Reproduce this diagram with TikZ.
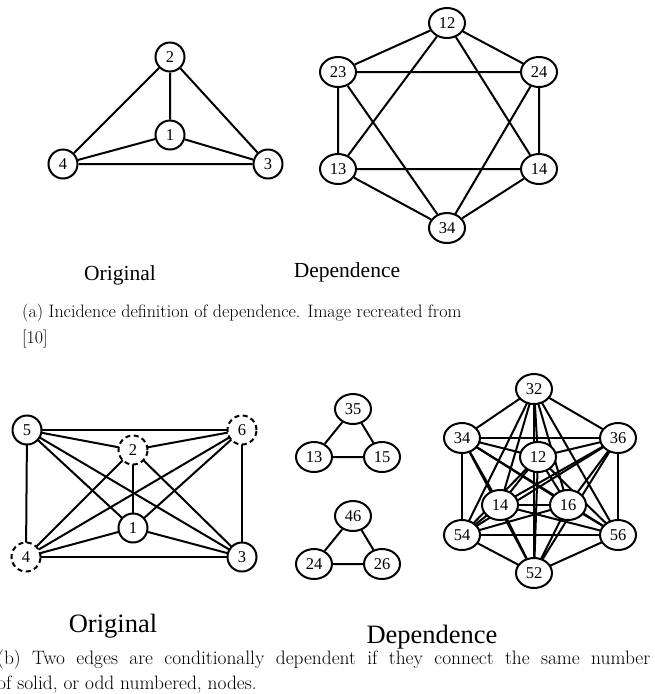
\documentclass[tikz,border=0pt]{standalone}
\usepackage{fontspec}
\newfontfamily\lab{Liberation Serif}
\usetikzlibrary{shapes.geometric}
\tikzset{
  edge/.style={line width=2pt},
  cnode/.style={circle,draw,line width=2pt,fill=white,minimum size=29pt,inner sep=0pt,font=\lab\fontsize{16.5}{16.5}\selectfont},
  dnode/.style={cnode,dash pattern=on 5pt off 3.5pt},
  enode/.style={ellipse,draw,line width=2pt,fill=white,minimum width=36pt,minimum height=30pt,inner sep=0pt,font=\lab\fontsize{16.5}{16.5}\selectfont},
  biglab/.style={inner sep=0pt,font=\lab\fontsize{21.5}{21.5}\selectfont},
  hugelab/.style={inner sep=0pt,font=\lab\fontsize{26.5}{26.5}\selectfont},
  capt/.style={inner sep=0pt,anchor=base west,font=\fontsize{18}{21}\selectfont},
  captb/.style={capt,font=\fontsize{19.4}{23}\selectfont}
}
\begin{document}
\begin{tikzpicture}[x=1pt,y=-1pt]
\useasboundingbox (0,0) rectangle (655,694);
% (a) original
\coordinate (pa2) at (170,57);
\coordinate (pa1) at (170,135);
\coordinate (pa4) at (63,164);
\coordinate (pa3) at (268,164);
\node[cnode] (a2) at (pa2) {2};
\node[cnode] (a1) at (pa1) {1};
\node[cnode] (a4) at (pa4) {4};
\node[cnode] (a3) at (pa3) {3};
\draw[edge] (a2)--(a1) (a2)--(a4) (a2)--(a3) (a1)--(a4) (a1)--(a3) (a4)--(a3);
% (a) dependence
\node[enode] (e12) at (447,23) {12};
\node[enode] (e23) at (338,72) {23};
\node[enode] (e24) at (539,72) {24};
\node[enode] (e13) at (338,169) {13};
\node[enode] (e14) at (539,169) {14};
\node[enode] (e34) at (447,228) {34};
\draw[edge] (e12)--(e23) (e12)--(e24) (e23)--(e24) (e23)--(e13) (e24)--(e14) (e13)--(e14)
  (e13)--(e34) (e14)--(e34) (e12)--(e13) (e12)--(e14) (e23)--(e34) (e24)--(e34);
\node[biglab] (la1) at (120,275) {Original};
\node[biglab] (la2) at (347,272) {Dependence};
\node[capt] (ca1) at (22,317) {(a) Incidence definition of dependence. Image recreated from};
\node[capt] (ca2) at (22,343) {[10]};
% (b) original
\coordinate (p5) at (27,430);
\coordinate (p6) at (242,430);
\coordinate (p2) at (133,450);
\coordinate (p1) at (133,528);
\coordinate (p4) at (26,557);
\coordinate (p3) at (242,557);
\foreach \u/\v in {5/6,5/2,5/1,5/3,5/4,6/2,6/1,6/4,6/3,2/1,2/4,2/3,1/4,1/3,4/3}
  \draw[edge] (p\u)--(p\v);
\node[cnode] (b5) at (p5) {5};
\node[dnode] (b6) at (p6) {6};
\node[dnode] (b2) at (p2) {2};
\node[cnode] (b1) at (p1) {1};
\node[dnode] (b4) at (p4) {4};
\node[cnode] (b3) at (p3) {3};
% (b) triangles
\node[enode] (t35) at (353,409) {35};
\node[enode] (t13) at (314,457) {13};
\node[enode] (t15) at (382,457) {15};
\draw[edge] (t35)--(t13) (t35)--(t15) (t13)--(t15);
\node[enode] (t46) at (353,516) {46};
\node[enode] (t24) at (314,564) {24};
\node[enode] (t26) at (382,564) {26};
\draw[edge] (t46)--(t24) (t46)--(t26) (t24)--(t26);
% (b) dense
\foreach \n/\x/\y in {32/534/389,34/462/438,36/618/438,12/538/457,14/500/505,16/568/505,54/462/535,56/618/535,52/534/573}
  \coordinate (q\n) at (\x,\y);
\foreach \u/\v in {32/34,32/36,32/12,32/14,32/16,32/54,32/56,32/52,
  34/36,34/12,34/14,34/16,34/54,34/56,34/52,
  36/12,36/14,36/16,36/54,36/56,36/52,
  12/14,12/16,12/54,12/56,12/52,
  14/16,14/54,14/56,14/52,
  16/54,16/56,16/52,
  54/56,54/52,56/52}
  \draw[edge] (q\u)--(q\v);
\foreach \n in {32,34,36,12,14,16,54,56,52}
  \node[enode] (k\n) at (q\n) {\n};
\node[hugelab] (lb1) at (113,626) {Original};
\node[hugelab] (lb2) at (432,637) {Dependence};
\node[captb] (cb1) at (-3,664) {\makebox[653pt][s]{(b) Two edges are conditionally dependent if they connect the same number}};
\node[captb] (cb2) at (-3,689) {of solid, or odd numbered, nodes.};
\end{tikzpicture}
\end{document}
